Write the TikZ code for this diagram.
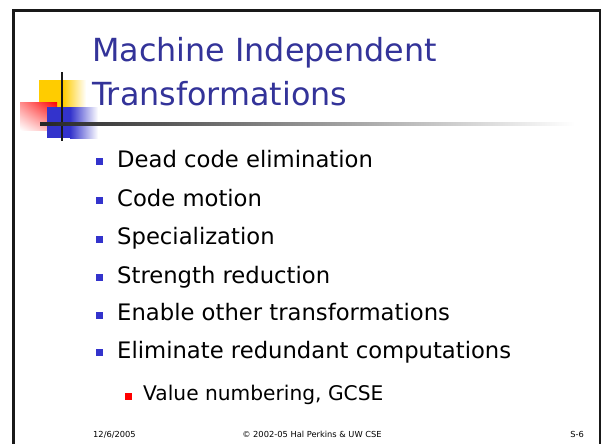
\documentclass[tikz,border=0pt]{standalone}
\usepackage{fontspec}
\setmainfont{DejaVu Sans}
\usetikzlibrary{shadings}
\definecolor{titleblue}{RGB}{51,51,153}
\definecolor{bulletblue}{RGB}{51,51,204}
\definecolor{logoyellow}{RGB}{255,204,0}
\definecolor{logored}{RGB}{255,0,0}
\begin{document}
\begin{tikzpicture}[x=1pt,y=-1pt,
  titletext/.style={anchor=base west,inner sep=0pt,text=titleblue,font=\fontsize{31.8}{36}\selectfont},
  itemtext/.style={anchor=base west,inner sep=0pt,font=\fontsize{22.7}{26}\selectfont},
  subtext/.style={anchor=base west,inner sep=0pt,font=\fontsize{20.2}{23}\selectfont},
  foot/.style={anchor=base,inner sep=0pt,font=\fontsize{8.3}{10}\selectfont},
  bsq/.style={fill=bulletblue,draw=none},
  rsq/.style={fill=logored,draw=none}]
\useasboundingbox (0,0) rectangle (602,444);
\fill[white] (0,0) rectangle (602,444);
% logo
\shade[left color=logoyellow, right color=white] (63,80) rectangle (86,107);
\fill[logoyellow] (39,80) rectangle (63.5,107);
\shade[upper right=logored, lower left=white, upper left=logored!45!white, lower right=logored!35!white] (20,102) rectangle (57,130);
\shade[left color=bulletblue, right color=white] (70,107) rectangle (98,138);
\fill[bulletblue] (47,107) rectangle (70.5,138);
\draw[line width=2.2pt, black!90] (62,72) -- (62,141);
\shade[left color=black!85, right color=white] (40,122.9) rectangle (575,125.3);
% frame
\draw[line width=2.5pt, black!90] (13.5,444) -- (13.5,10.5) -- (600,10.5) -- (600,444);
% title
\node[titletext] (t1) at (92,62) {Machine Independent};
\node[titletext] (t2) at (92,105) {Transformations};
% bullets
\foreach \y/\txt/\nm in {167/Dead code elimination/a, 206/Code motion/b, 244.5/Specialization/c, 283/Strength reduction/d, 320.5/Enable other transformations/e, 358/Eliminate redundant computations/f}{
  \fill[bsq] (96,\y-9) rectangle (103,\y-2);
  \node[itemtext] (i\nm) at (117,\y) {\txt};
}
\fill[rsq] (125,393) rectangle (132,400);
\node[subtext] (s1) at (143,400) {Value numbering, GCSE};
% footer
\node[foot,anchor=base west] (f1) at (93,437) {12/6/2005};
\node[foot] (f2) at (312,437) {© 2002-05 Hal Perkins \& UW CSE};
\node[foot,anchor=base east] (f3) at (584,437) {S-6};
\end{tikzpicture}
\end{document}
